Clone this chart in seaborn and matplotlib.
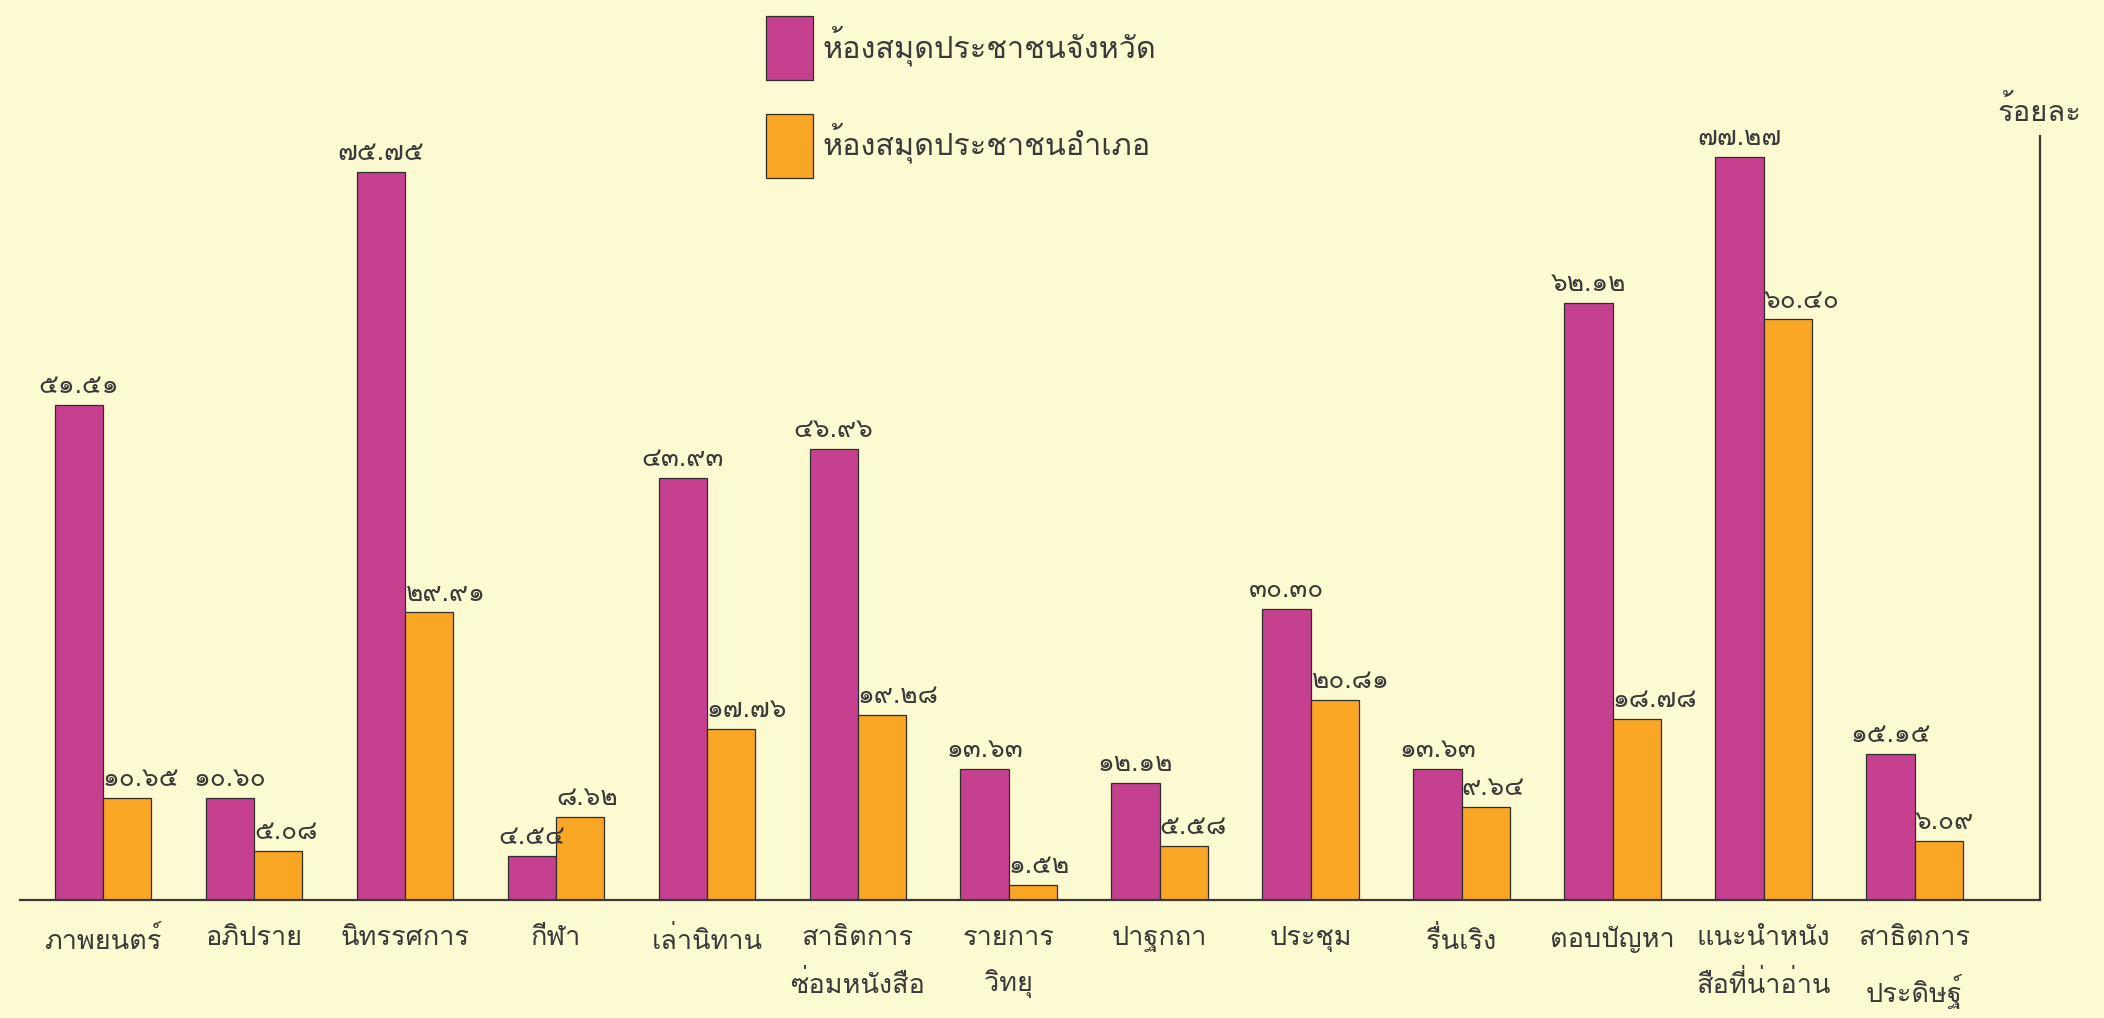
import matplotlib
matplotlib.use("Agg")
import matplotlib.pyplot as plt
import seaborn as sns
import pandas as pd
from matplotlib import font_manager
from matplotlib.ft2font import FT2Font

# ---------------- data ----------------
categories = ["ภาพยนตร์", "อภิปราย", "นิทรรศการ", "กีฬา", "เล่านิทาน",
              "สาธิตการ\nซ่อมหนังสือ", "รายการ\nวิทยุ", "ปาฐกถา", "ประชุม",
              "รื่นเริง", "ตอบปัญหา", "แนะนำหนัง\nสือที่น่าอ่าน", "สาธิตการ\nประดิษฐ์"]
province = [51.51, 10.60, 75.75, 4.54, 43.93, 46.96, 13.63, 12.12, 30.30,
            13.63, 62.12, 77.27, 15.15]
district = [10.65, 5.08, 29.91, 8.62, 17.76, 19.28, 1.52, 5.58, 20.81,
            9.64, 18.78, 60.40, 6.09]
series_names = ["ห้องสมุดประชาชนจังหวัด", "ห้องสมุดประชาชนอำเภอ"]
y_unit = "ร้อยละ"

# ---------------- fonts ----------------
def find_thai_font():
    for f in font_manager.fontManager.ttflist:
        try:
            ft = FT2Font(f.fname)
            if ft.get_char_index(ord("ก")) and ft.get_char_index(ord("๕")):
                return f.name
        except Exception:
            pass
    return None

sns.set_style("white")
thai = find_thai_font()
fams = ([thai] if thai else []) + ["DejaVu Sans"]
plt.rcParams["font.family"] = fams

BG = "#FCFAD0"
MAG = "#C5408F"
ORA = "#F9A624"
INK = "#3a3a3a"

thai_digits = str.maketrans("0123456789", "๐๑๒๓๔๕๖๗๘๙")

df = pd.DataFrame({
    "cat": categories * 2,
    "val": province + district,
    "series": [series_names[0]] * len(categories) + [series_names[1]] * len(categories),
})

fig = plt.figure(figsize=(21.04, 10.18), dpi=100, facecolor=BG)
ax = fig.add_axes([0.0095, 0.116, 0.96, 0.7505])
ax.set_facecolor(BG)

sns.barplot(data=df, x="cat", y="val", hue="series", order=categories,
            hue_order=series_names, palette=[MAG, ORA], width=0.64, gap=0,
            edgecolor="#2e2e2e", linewidth=0.9, saturation=1, ax=ax)

ax.set_xlim(-0.55, 12.83)
ax.set_ylim(0, 79.5)
ax.set_xlabel("")
ax.set_ylabel("")
ax.set_yticks([])
for s in ["left", "top"]:
    ax.spines[s].set_visible(False)
for s in ["right", "bottom"]:
    ax.spines[s].set_color(INK)
    ax.spines[s].set_linewidth(1.6)
ax.tick_params(axis="x", length=0, pad=19, labelsize=19.5, colors=INK)
for t in ax.get_xticklabels():
    t.set_linespacing(1.85)
    t.set_verticalalignment("top")

# value labels
for ci, cont in enumerate(ax.containers):
    for bar in cont:
        h = bar.get_height()
        txt = f"{h:.2f}".translate(thai_digits)
        if ci == 0:
            x = bar.get_x() + bar.get_width() / 2
            ha = "center"
        else:
            x = bar.get_x()
            ha = "left"
        ax.annotate(txt, (x, h), xytext=(0, 5), textcoords="offset points",
                    ha=ha, va="bottom", fontsize=19, color=INK)

# unit label at top of right axis
ax.text(1.0, 1.012, y_unit, transform=ax.transAxes, ha="center", va="bottom",
        fontsize=21, color=INK)

# legend
handles, labels = ax.get_legend_handles_labels()
ax.get_legend().remove()
leg = fig.legend(handles, labels, loc="upper left", bbox_to_anchor=(0.364, 0.984),
                 frameon=False, fontsize=22, handlelength=1.55, handleheight=2.84,
                 labelspacing=1.1, handletextpad=0.3, borderpad=0, borderaxespad=0)
for t in leg.get_texts():
    t.set_color(INK)

fig.savefig("out.png", dpi=100, facecolor=BG)
